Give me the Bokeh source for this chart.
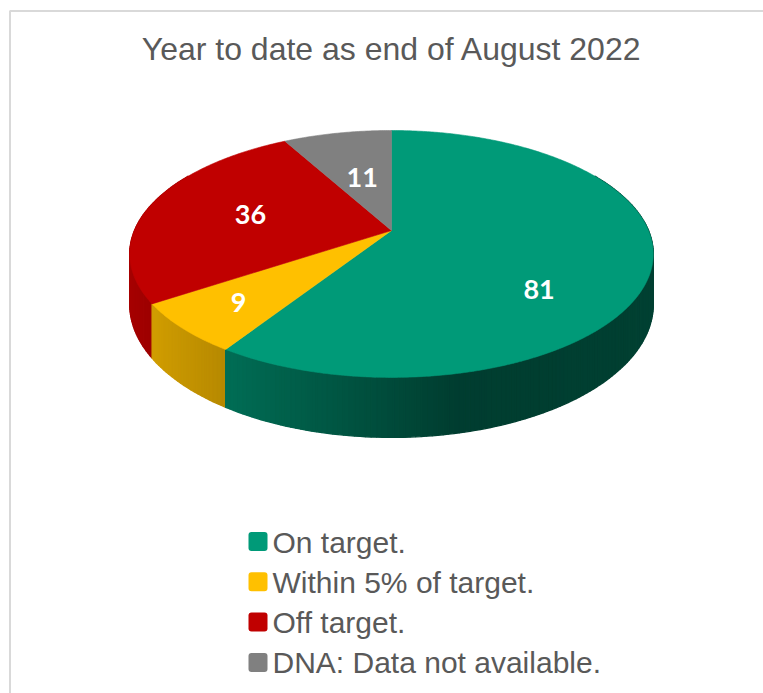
import numpy as np
from bokeh.plotting import figure
from bokeh.models import Range1d
from bokeh.core.properties import value
from bokeh.embed import file_html
from bokeh.resources import INLINE

# ---------------- data ----------------
title_text = "Year to date as end of August 2022"
categories = ["On target.", "Within 5% of target.", "Off target.", "DNA: Data not available."]
values = [81, 9, 36, 11]
colors = ["#009A78", "#FFC000", "#C00000", "#808080"]

# ---------------- layout / style ----------------
W, H = 763, 693
CX, CY = 391.0, 230.0      # pie apex (px)
RA, RB = 257.0, 119.0      # radii of the top face
K = 0.19                   # perspective strength
DEPTH = 48.6               # thickness of the pie
label_r = [0.58, 0.76, 0.58, 0.5]
label_dy = [39, 0, 0, 0]

p = figure(width=W, height=H, x_range=Range1d(0, W), y_range=Range1d(H, 0),
           output_backend="svg", toolbar_location=None, min_border=0,
           x_axis_location=None, y_axis_location=None)
p.xgrid.visible = False
p.ygrid.visible = False
p.outline_line_color = None
p.background_fill_color = "white"
p.border_fill_color = "white"

# chart border (only top/left edges are visible in the crop)
p.line(x=[9.5, 9.5, W + 5], y=[H + 5, 10.5, 10.5], line_color="#D9D9D9", line_width=2)


def proj(theta_deg, r=1.0):
    t = np.radians(theta_deg)
    u = r * np.sin(t)
    v = r * np.cos(t)
    w = 1 + K * v
    return CX + RA * u / w, CY - RB * v / w, w


def hex2rgb(h):
    h = h.lstrip("#")
    return tuple(int(h[i:i + 2], 16) for i in (0, 2, 4))


def shade(hexcol, f):
    r, g, b = hex2rgb(hexcol)
    return "#%02x%02x%02x" % (int(min(255, r * f)), int(min(255, g * f)), int(min(255, b * f)))


total = float(sum(values))
spans = [v / total * 360.0 for v in values]
starts = np.concatenate([[0.0], np.cumsum(spans)[:-1]])

# ---------- side walls (far to near) ----------
quads = []
for s, sp, col in zip(starts, spans, colors):
    a0, a1 = max(s, 60.0), min(s + sp, 300.0)
    if a1 <= a0:
        continue
    n = max(2, int((a1 - a0) / 1.0))
    edges = np.linspace(a0, a1, n + 1)
    for a, b in zip(edges[:-1], edges[1:]):
        xa, ya, wa = proj(a)
        xb, yb, wb = proj(b)
        m = 0.5 * (a + b)
        u = np.sin(np.radians(m))
        f = float(np.interp(u, [-1, -0.6, 0.2, 1], [0.88, 0.74, 0.40, 0.42]))
        c = shade(col, f)
        quads.append((np.cos(np.radians(m)),
                      [xa, xb, xb, xa],
                      [ya, yb, yb + DEPTH / wb, ya + DEPTH / wa], c))
quads.sort(key=lambda q: -q[0])
p.patches(xs=[q[1] for q in quads], ys=[q[2] for q in quads],
          fill_color=[q[3] for q in quads], line_color=[q[3] for q in quads], line_width=1.3)

# ---------- top faces ----------
txs, tys = [], []
for s, sp in zip(starts, spans):
    angs = np.linspace(s, s + sp, max(3, int(sp * 2)))
    x, y, _ = proj(angs)
    txs.append([CX] + list(x))
    tys.append([CY] + list(y))
p.patches(xs=txs, ys=tys, fill_color=colors, line_color=colors, line_width=0.6)

# ---------- data labels ----------
lx, ly = [], []
for s, sp, r, dy in zip(starts, spans, label_r, label_dy):
    x, y, _ = proj(s + sp / 2, r)
    lx.append(float(x))
    ly.append(float(y) + dy)
p.text(x=lx, y=ly, text=[str(v) for v in values], text_align="center", text_baseline="middle",
       text_color="white", text_font=value("Lato"), text_font_style="bold", text_font_size="27px")

# ---------- title ----------
p.text(x=[391.5], y=[48.5], text=[title_text], text_align="center", text_baseline="middle",
       text_color="#595959", text_font=value("Liberation Sans"), text_font_size="32px")

# ---------- legend ----------
ys_sq = [541 + 40.3 * i for i in range(len(categories))]
p.rect(x=[257.5] * len(categories), y=ys_sq, width=19, height=19, fill_color=colors,
       line_color=None, border_radius=3)
p.text(x=[272] * len(categories), y=[y + 0.5 for y in ys_sq], text=categories,
       text_align="left", text_baseline="middle", text_color="#595959",
       text_font=value("Liberation Sans"), text_font_size="30px")

open("out.html", "w").write(file_html(p, INLINE))
